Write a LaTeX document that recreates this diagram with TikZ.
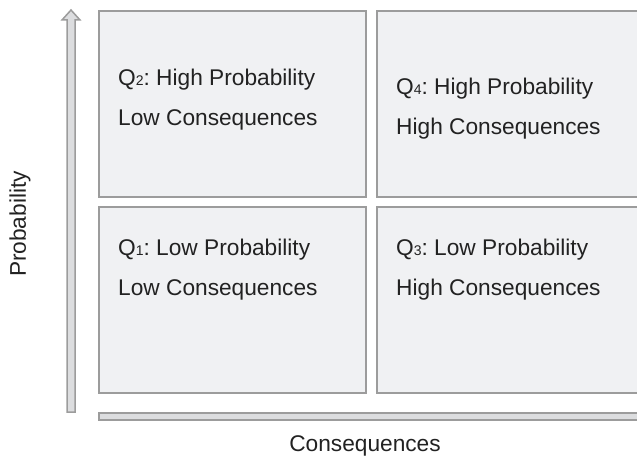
\documentclass[tikz,border=0pt]{standalone}
\usepackage{fontspec}
\setmainfont{Liberation Sans}
\frenchspacing
\definecolor{qfill}{HTML}{F0F1F3}
\definecolor{qedge}{HTML}{9C9C9C}
\definecolor{axfill}{HTML}{DCDDDF}
\definecolor{qink}{HTML}{222222}
\usetikzlibrary{positioning, calc}
\tikzset{
  quad/.style={draw=qedge, line width=2pt, fill=qfill, minimum width=267pt, minimum height=186pt, inner sep=0pt},
  qtext/.style={font=\fontsize{22.7}{40}\selectfont, align=left, anchor=base west, inner sep=0pt, text=qink},
  axlabel/.style={font=\fontsize{22.7}{27}\selectfont, text=qink, inner sep=0pt},
  axis/.style={draw=qedge, line width=1.5pt, fill=axfill},
}
\newcommand{\qsub}[1]{{\fontsize{14}{14}\selectfont #1}}

\begin{document}
\begin{tikzpicture}[x=1pt, y=-1pt]
    \useasboundingbox (0,0) rectangle (637,460);
    % quadrants
    \foreach \name/\cx/\cy in {q2/232.5/104, q4/510.5/104, q1/232.5/300, q3/510.5/300} {
      \node[quad] (\name) at (\cx,\cy) {};
    }
    \node[qtext] (t2) at ([shift={(20,115)}]q2.north west) {Q\qsub{2}: High Probability\\Low Consequences};
    \node[qtext] (t4) at ([shift={(20,124)}]q4.north west) {Q\qsub{4}: High Probability\\High Consequences};
    \node[qtext] (t1) at ([shift={(20,89)}]q1.north west) {Q\qsub{1}: Low Probability\\Low Consequences};
    \node[qtext] (t3) at ([shift={(20,89)}]q3.north west) {Q\qsub{3}: Low Probability\\High Consequences};
    % axes
    \coordinate (ybot) at (71,412);
    \coordinate (ytop) at (71,10);
    \draw[axis] ($(ybot)+(-4,0)$) -- ($(ytop)+(-4,10)$) -- ($(ytop)+(-9,10)$) -- (ytop)
      -- ($(ytop)+(9,10)$) -- ($(ytop)+(4,10)$) -- ($(ybot)+(4,0)$) -- cycle;
    \coordinate (xleft) at (99,416.5);
    \coordinate (xright) at (660,416.5);
    \draw[axis] ($(xleft)+(0,-3.5)$) rectangle ($(xright)+(0,3.5)$);
    % labels
    \node[axlabel, rotate=90] (ylab) at (20,224) {Probability};
    \node[axlabel] (xlab) at (365,446) {Consequences};
  \end{tikzpicture}
\end{document}
